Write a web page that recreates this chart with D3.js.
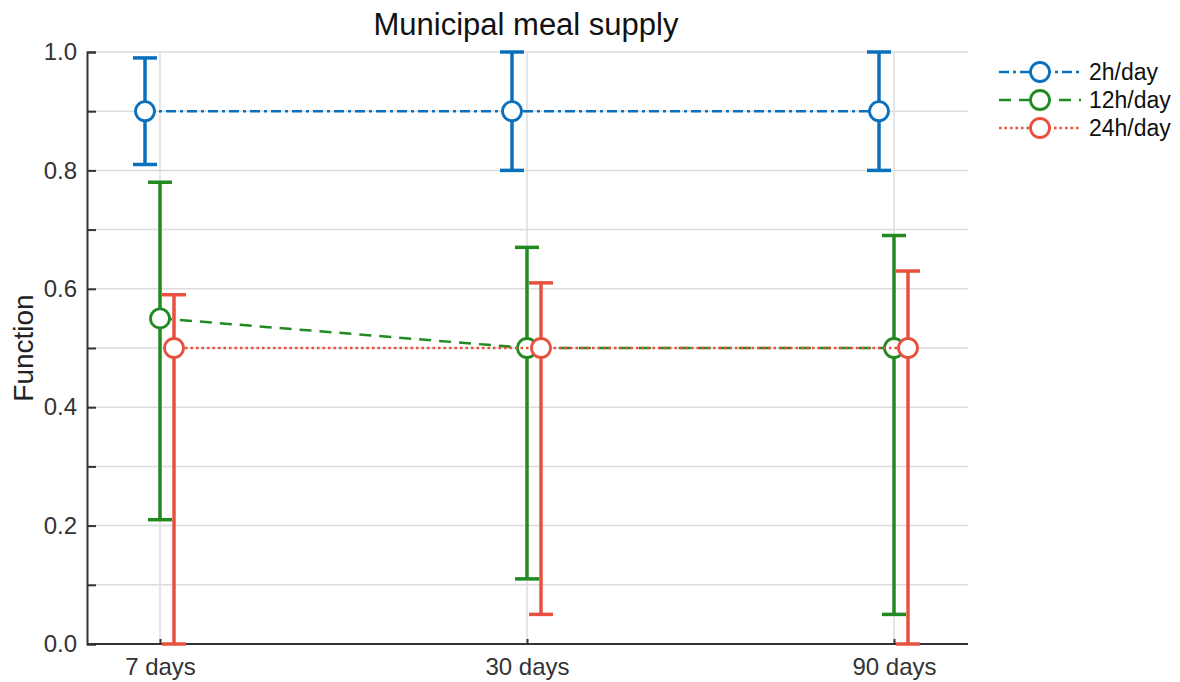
<!DOCTYPE html>
<html><head><meta charset="utf-8">
<script src="https://cdn.jsdelivr.net/npm/d3@7"></script>
<style>body{margin:0;background:#fff;} text{font-family:Arial,"Liberation Sans",sans-serif;}</style>
</head><body>
<svg id="c" width="1180" height="682"></svg>
<script>
const categories = ["7 days", "30 days", "90 days"];
const seriesNames = ["2h/day", "12h/day", "24h/day"];
const means2h = [0.9, 0.9, 0.9];
const lo2h = [0.81, 0.8, 0.8];
const hi2h = [0.99, 1.0, 1.0];
const means12h = [0.55, 0.5, 0.5];
const lo12h = [0.21, 0.11, 0.05];
const hi12h = [0.78, 0.67, 0.69];
const means24h = [0.5, 0.5, 0.5];
const lo24h = [0.0, 0.05, 0.0];
const hi24h = [0.59, 0.61, 0.63];
const yTicks = [0, 0.2, 0.4, 0.6, 0.8, 1.0];
const yMinor = [0.1, 0.3, 0.5, 0.7, 0.9];

const colors = ["#0a70be", "#218a21", "#e8503f"];
const dashes = ["10,4,3,4", "12,8", "2.5,3"];
const offsets = [-15, 0, 14];

const series = [
  {name: seriesNames[0], m: means2h, lo: lo2h, hi: hi2h},
  {name: seriesNames[1], m: means12h, lo: lo12h, hi: hi12h},
  {name: seriesNames[2], m: means24h, lo: lo24h, hi: hi24h}
];

const svg = d3.select("#c");
const L = 87, R = 968, T = 52, B = 644;
const x = d3.scalePoint().domain(categories).range([160, 894]);
const y = d3.scaleLinear().domain([0, 1]).range([B, T]);

// gridlines
const grid = svg.append("g");
grid.selectAll(".hg").data(yTicks.concat(yMinor).filter(v => v > 0)).join("line")
  .attr("x1", L).attr("x2", R).attr("y1", d => y(d)).attr("y2", d => y(d))
  .attr("stroke", "#dcdcdc").attr("stroke-width", 1.5);
grid.selectAll(".vg").data(categories).join("line")
  .attr("x1", d => x(d)).attr("x2", d => x(d)).attr("y1", T).attr("y2", B)
  .attr("stroke", "#dcdcdc").attr("stroke-width", 1.5);

// axes
const yAxis = d3.axisLeft(y).tickValues(yTicks).tickFormat(d3.format(".1f")).tickSize(-9).tickPadding(10);
const gy = svg.append("g").attr("transform", `translate(${L},0)`).call(yAxis);
gy.attr("font-family", null);
gy.select(".domain").attr("stroke", "#333").attr("stroke-width", 2);
gy.selectAll(".tick line").attr("stroke", "#333").attr("stroke-width", 2);
gy.selectAll("text").attr("font-size", 24).attr("fill", "#333");
const gym = svg.append("g").attr("transform", `translate(${L},0)`)
  .call(d3.axisLeft(y).tickValues(yMinor).tickFormat("").tickSize(-9));
gym.select(".domain").remove();
gym.selectAll(".tick line").attr("stroke", "#333").attr("stroke-width", 2);

const xAxis = d3.axisBottom(x).tickSize(-5).tickPadding(14);
const gx = svg.append("g").attr("transform", `translate(0,${B})`).call(xAxis);
gx.attr("font-family", null);
gx.select(".domain").attr("d", `M${L},0H${R}`).attr("stroke", "#333").attr("stroke-width", 2);
gx.selectAll(".tick line").attr("stroke", "#333").attr("stroke-width", 2);
gx.selectAll("text").attr("font-size", 24).attr("fill", "#333");

// series
series.forEach((s, i) => {
  const g = svg.append("g");
  const px = c => x(c) + offsets[i];
  const line = d3.line().x((d, k) => px(categories[k])).y(d => y(d));
  g.append("path").attr("d", line(s.m)).attr("fill", "none")
    .attr("stroke", colors[i]).attr("stroke-width", 2.5).attr("stroke-dasharray", dashes[i]);
  categories.forEach((c, k) => {
    g.append("line").attr("x1", px(c)).attr("x2", px(c)).attr("y1", y(s.lo[k])).attr("y2", y(s.hi[k]))
      .attr("stroke", colors[i]).attr("stroke-width", 3.5);
    [s.lo[k], s.hi[k]].forEach(v => {
      g.append("line").attr("x1", px(c) - 12).attr("x2", px(c) + 12).attr("y1", y(v)).attr("y2", y(v))
        .attr("stroke", colors[i]).attr("stroke-width", 3.5);
    });
  });
  g.selectAll("circle").data(s.m).join("circle")
    .attr("cx", (d, k) => px(categories[k])).attr("cy", d => y(d)).attr("r", 9.5)
    .attr("fill", "#fff").attr("stroke", colors[i]).attr("stroke-width", 2.8);
});

// title & label
svg.append("text").attr("x", 526).attr("y", 35).attr("text-anchor", "middle")
  .attr("font-size", 31).attr("fill", "#111").text("Municipal meal supply");
svg.append("text").attr("transform", "translate(33,348) rotate(-90)").attr("text-anchor", "middle")
  .attr("font-size", 28).attr("fill", "#222").text("Function");

// legend
const lg = svg.append("g");
series.forEach((s, i) => {
  const yy = 72 + i * 28;
  lg.append("line").attr("x1", 999).attr("x2", 1081).attr("y1", yy).attr("y2", yy)
    .attr("stroke", colors[i]).attr("stroke-width", 2.5).attr("stroke-dasharray", dashes[i]);
  lg.append("circle").attr("cx", 1040).attr("cy", yy).attr("r", 9.5)
    .attr("fill", "#fff").attr("stroke", colors[i]).attr("stroke-width", 2.8);
  lg.append("text").attr("x", 1089).attr("y", yy + 8).attr("font-size", 23).attr("fill", "#111").text(s.name);
});
</script>
</body></html>
